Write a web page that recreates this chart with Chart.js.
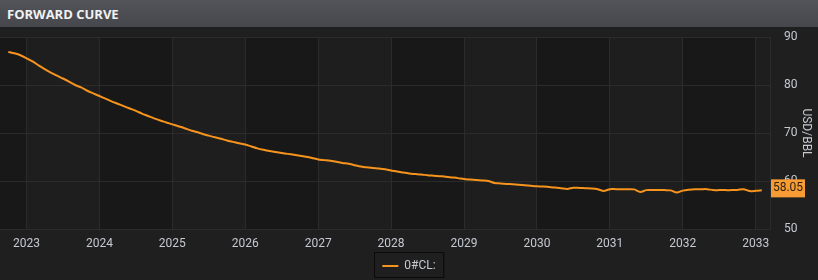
<!DOCTYPE html>
<html>
<head>
<meta charset="utf-8">
<script src="https://cdn.jsdelivr.net/npm/chart.js@4.4.0/dist/chart.umd.min.js"></script>
<style>
  html, body { margin: 0; padding: 0; background: #1f1f1f; width: 818px; height: 280px; overflow: hidden; }
  .header {
    height: 27px; box-sizing: border-box; padding-left: 7px;
    background: linear-gradient(#525459, #45474c);
    color: #f2f2f2; font: bold 13px "Open Sans", sans-serif; line-height: 29px;
  }
  .wrap { position: relative; width: 818px; height: 263px; }
</style>
</head>
<body>
<div class="header">FORWARD CURVE</div>
<div class="wrap"><canvas id="curve"></canvas></div>
<script>
// tick labels on the time axis
const yearTicks = [2023, 2024, 2025, 2026, 2027, 2028, 2029, 2030, 2031, 2032, 2033];

// monthly settlement curve (USD/BBL)
const y2022 = [86.9, 86.6, 86.2];   // Oct - Dec
const y2023 = [85.55, 84.9, 84.1, 83.3, 82.6, 81.95, 81.35, 80.7, 80.0, 79.5, 78.8, 78.25];
const y2024 = [77.7, 77.15, 76.6, 76.1, 75.6, 75.1, 74.6, 74.05, 73.55, 73.05, 72.6, 72.2];
const y2025 = [71.8, 71.4, 71.0, 70.55, 70.2, 69.8, 69.45, 69.1, 68.8, 68.45, 68.15, 67.85];
const y2026 = [67.6, 67.2, 66.8, 66.5, 66.25, 66.05, 65.85, 65.65, 65.45, 65.25, 65.05, 64.8];
const y2027 = [64.5, 64.35, 64.2, 64.0, 63.75, 63.6, 63.3, 63.0, 62.85, 62.7, 62.6, 62.45];
const y2028 = [62.2, 62.0, 61.75, 61.55, 61.45, 61.35, 61.2, 61.1, 61.0, 60.9, 60.75, 60.6];
const y2029 = [60.4, 60.3, 60.2, 60.1, 60.0, 59.6, 59.5, 59.4, 59.3, 59.2, 59.1, 59.0];
const y2030 = [58.9, 58.85, 58.75, 58.65, 58.5, 58.35, 58.6, 58.55, 58.5, 58.45, 58.3, 57.9];
const y2031 = [58.3, 58.3, 58.3, 58.3, 58.25, 57.7, 58.1, 58.1, 58.1, 58.1, 58.05, 57.6];
const y2032 = [58.0, 58.2, 58.3, 58.3, 58.3, 58.1, 58.1, 58.1, 58.1, 58.15, 58.3, 57.9];
const y2033 = [57.95, 58.05];     // Jan - Feb

// [year, first month, values]
const curveYears = [
  [2022, 10, y2022], [2023, 1, y2023], [2024, 1, y2024], [2025, 1, y2025],
  [2026, 1, y2026], [2027, 1, y2027], [2028, 1, y2028], [2029, 1, y2029],
  [2030, 1, y2030], [2031, 1, y2031], [2032, 1, y2032], [2033, 1, y2033]
];

const points = [];
curveYears.forEach(([yr, m0, vals]) => {
  vals.forEach((v, k) => points.push({ x: yr + (m0 - 1 + k) / 12, y: v }));
});

const textColor = '#c5c9d0';
const gridColor = '#2b2b2b';
const font = { family: 'Roboto', size: 12 };

// alternating year bands behind the grid
const yearBands = {
  id: 'yearBands',
  beforeDraw(chart) {
    const { ctx, chartArea: a, scales: { x } } = chart;
    const edges = [x.min, ...yearTicks, x.max];
    ctx.save();
    for (let i = 0; i < edges.length - 1; i++) {
      const l = x.getPixelForValue(edges[i]);
      const r = x.getPixelForValue(edges[i + 1]);
      ctx.fillStyle = i % 2 === 0 ? '#181818' : '#1e1e1f';
      ctx.fillRect(l, a.top, r - l, a.bottom - a.top);
    }
    ctx.restore();
  }
};

// orange tag with the last value on the right axis
const lastValue = {
  id: 'lastValue',
  afterDraw(chart) {
    const { ctx, chartArea: a, scales: { y } } = chart;
    const data = chart.data.datasets[0].data;
    const last = data[data.length - 1].y;
    const py = y.getPixelForValue(last);
    ctx.save();
    ctx.fillStyle = '#f79b34';
    ctx.fillRect(a.right + 1, py - 11, 34, 18);
    ctx.fillStyle = '#2e2312';
    ctx.font = '12px Roboto';
    ctx.textAlign = 'center';
    ctx.textBaseline = 'middle';
    ctx.fillText(last.toFixed(2), a.right + 18, py - 2);
    ctx.restore();
  }
};

// thin dark frame round the legend
const legendFrame = {
  id: 'legendFrame',
  afterDraw(chart) {
    const hb = chart.legend.legendHitBoxes[0];
    if (!hb) return;
    const ctx = chart.ctx;
    ctx.save();
    ctx.strokeStyle = '#0a0a0a';
    ctx.lineWidth = 1;
    ctx.strokeRect(Math.round(hb.left - 8) + 0.5, Math.round(hb.top - 8) + 0.5, hb.width + 16, hb.height + 13);
    ctx.restore();
  }
};

new Chart(document.getElementById('curve').getContext('2d'), {
  type: 'line',
  data: {
    datasets: [{
      label: '0#CL:',
      data: points,
      borderColor: '#f7941d',
      backgroundColor: '#f7941d',
      borderWidth: 2,
      pointRadius: 0,
      tension: 0.25,
      fill: false
    }]
  },
  options: {
    responsive: true,
    maintainAspectRatio: false,
    animation: false,
    layout: { padding: { top: 10, bottom: 8, left: 0, right: 0 } },
    plugins: {
      tooltip: { enabled: false },
      legend: {
        position: 'bottom',
        labels: {
          color: textColor,
          font: font,
          usePointStyle: true,
          pointStyle: 'line',
          pointStyleWidth: 16,
          padding: 8
        }
      }
    },
    scales: {
      x: {
        type: 'linear',
        min: 2022.637,
        max: 2033.196,
        afterBuildTicks: s => { s.ticks = yearTicks.map(v => ({ value: v })); },
        afterFit: s => { s.height = 23; s.paddingLeft = 0; s.paddingRight = 0; },
        grid: { color: gridColor, drawTicks: false },
        border: { display: true, color: gridColor },
        ticks: {
          color: textColor, font: font, padding: 8,
          maxRotation: 0, autoSkip: false,
          callback: v => String(v)
        }
      },
      y: {
        position: 'right',
        min: 50,
        max: 90,
        afterFit: s => { s.width = 48; s.paddingTop = 0; s.paddingBottom = 0; },
        grid: { color: gridColor, drawTicks: false },
        border: { display: true, color: gridColor },
        ticks: { stepSize: 10, padding: 14, color: textColor, font: font },
        title: {
          display: true, text: 'USD/BBL', color: textColor,
          font: font, padding: { top: 5, bottom: 0 }
        }
      }
    }
  },
  plugins: [yearBands, lastValue, legendFrame]
});
</script>
</body>
</html>
